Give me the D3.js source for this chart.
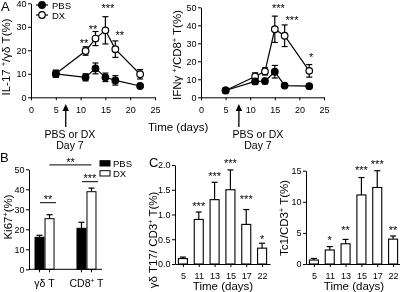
<!DOCTYPE html>
<html>
<head>
<meta charset="utf-8">
<script src="https://cdn.jsdelivr.net/npm/d3@7"></script>
<style>
  body { margin: 0; background: #fff; }
  svg { display: block; font-family: "Liberation Sans", Arial, sans-serif; will-change: transform; }
  .axis path, .axis line { stroke: #000; stroke-width: 1; }
  .axis text { font-size: 9px; fill: #000; font-family: "Liberation Sans", Arial, sans-serif; }
</style>
</head>
<body>
<div id="chart"></div>
<script>
// ---- data ----
const days = [5, 11, 13, 15, 17, 22]
const timeTicks = [0, 5, 10, 15, 20, 25]
const treatDay = 7

// A left: IL-17+ / gd T (%)
const il17Pbs = [10, 8.5, 12.3, 8.5, 7.2, 4.8]
const il17PbsErr = [1.5, 1.5, 2.3, 1.8, 2, 0.5]
const il17Dx = [10, 19.7, 25, 28.5, 20.5, 9.8]
const il17DxErr = [1.5, 1.8, 3, 5.8, 3.5, 2]
const il17Ticks = [0, 10, 20, 30, 40]
const il17Stars = ['**', '**', '***', '**']
const il17StarDay = [10.7, 12.5, 15.5, 17.9]
const il17StarAt = [24, 29.9, 38.9, 27.4]

// A right: IFNg+ / CD8+ T (%)
const ifnPbs = [3.8, 8.8, 9, 14.2, 6.5, 6.2]
const ifnPbsErr = [0.5, 1.5, 1.5, 3.5, 1, 0.5]
const ifnDx = [3.8, 11.6, 14.4, 37.8, 34.2, 14.7]
const ifnDxErr = [0.5, 2, 2, 7.3, 6, 3.5]
const ifnTicks = [0, 10, 20, 30, 40, 50]
const ifnStars = ['***', '***', '*']
const ifnStarDay = [15.75, 18.5, 22.4]
const ifnStarAt = [50.7, 44, 23.5]

// B: Ki67+ (%)
const cellGroups = ['gd', 'cd8']
const treatments = ['PBS', 'DX']
const ki67Pbs = [16, 20.5]
const ki67PbsErr = [1, 3]
const ki67Dx = [25.3, 38.8]
const ki67DxErr = [2, 1.8]
const ki67Ticks = [0, 10, 20, 30, 40, 50]
const ki67Brackets = [
  {a: ['gd', 'PBS'], b: ['gd', 'DX'], at: 33.3, text: '**', edge: true},
  {a: ['cd8', 'PBS'], b: ['cd8', 'DX'], at: 43.8, text: '***', edge: true},
  {a: ['gd', 'DX'], b: ['cd8', 'DX'], at: 52.2, text: '**', edge: false}
]

// C left: gd T17 / CD3+ T (%)
const gdT17 = [0.11, 0.9, 1.3, 1.5, 0.8, 0.32]
const gdT17Err = [0.03, 0.15, 0.35, 0.4, 0.3, 0.1]
const gdT17Ticks = [0, 0.5, 1, 1.5, 2]
const gdT17Stars = ['', '***', '***', '***', '***', '*']
const gdT17StarAt = [0, 1.22, 1.82, 2.08, 1.35, 0.56]

// C right: Tc1 / CD3+ T (%)
const tc1 = [0.64, 2.25, 3.25, 11.1, 12.3, 4]
const tc1Err = [0.25, 0.55, 0.7, 2.8, 2.7, 0.5]
const tc1Ticks = [0, 5, 10, 15]
const tc1Stars = ['', '*', '**', '***', '***', '**']
const tc1StarAt = [0, 4.2, 5.8, 15.4, 16.4, 5.8]

// ---- canvas ----
const svg = d3.select('#chart')
  .append('svg')
  .attr('width', 400)
  .attr('height', 292)

const starSize = 11

// text with "^" parts as superscripts
const richText = (sel, parts, size) => {
  parts.forEach(p => {
    const sup = p.startsWith('^')
    sel.append('tspan')
      .attr('font-size', sup ? size * 0.62 : size)
      .attr('dy', sup ? -size * 0.38 : (sel.selectAll('tspan').size() > 1 ? size * 0.38 : 0))
      .text(sup ? p.slice(1) : p)
  })
  return sel
}

const addText = (x, y, parts, size, anchor = 'middle') => {
  const t = svg.append('text')
    .attr('x', x)
    .attr('y', y)
    .attr('text-anchor', anchor)
    .attr('fill', '#000')
    .attr('font-size', size)
  return richText(t, parts, size)
}

const addYTitle = (x, y, parts) => {
  const t = svg.append('text')
    .attr('transform', `translate(${x},${y}) rotate(-90)`)
    .attr('text-anchor', 'middle')
    .attr('fill', '#000')
    .attr('font-size', 11.5)
  richText(t, parts, 11.5)
}

const addYAxis = (y, x0, ticks, fmt) => {
  svg.append('g')
    .attr('class', 'axis')
    .attr('transform', `translate(${x0},0)`)
    .call(d3.axisLeft(y).tickValues(ticks).tickSize(3).tickSizeOuter(0).tickPadding(1.5)
      .tickFormat(fmt || d3.format('d')))
}

const addStars = (x, y, text) => {
  svg.append('text')
    .attr('x', x)
    .attr('y', y + starSize * 0.57)
    .attr('text-anchor', 'middle')
    .attr('font-size', starSize)
    .attr('fill', '#000')
    .text(text)
}

// ---- A: time courses ----
const drawTimeCourse = (x, y, pbs, pbsErr, dx, dxErr, stars, starDay, starAt) => {
  const series = [
    {vals: dx, err: dxErr, fill: '#fff'},
    {vals: pbs, err: pbsErr, fill: '#000'}
  ].map(s => ({...s, pts: days.map((d, i) => ({day: d, v: s.vals[i], e: s.err[i]}))}))

  const line = d3.line().x(d => x(d.day)).y(d => y(d.v))
  const g = svg.append('g')

  series.forEach(s => {
    g.append('path')
      .datum(s.pts)
      .attr('d', line)
      .attr('fill', 'none')
      .attr('stroke', '#000')
      .attr('stroke-width', 1.2)
  })
  series.forEach(s => {
    const eb = g.append('g').selectAll('g').data(s.pts).enter().append('g')
    eb.append('line')
      .attr('x1', d => x(d.day)).attr('x2', d => x(d.day))
      .attr('y1', d => y(d.v - d.e)).attr('y2', d => y(d.v + d.e))
      .attr('stroke', '#000').attr('stroke-width', 1.2)
    eb.selectAll('line.cap').data(d => [[d.day, d.v - d.e], [d.day, d.v + d.e]])
      .enter().append('line')
      .attr('class', 'cap')
      .attr('x1', d => x(d[0]) - 3).attr('x2', d => x(d[0]) + 3)
      .attr('y1', d => y(d[1])).attr('y2', d => y(d[1]))
      .attr('stroke', '#000').attr('stroke-width', 1.2)
  })
  series.forEach(s => {
    g.append('g').selectAll('circle').data(s.pts).enter().append('circle')
      .attr('cx', d => x(d.day))
      .attr('cy', d => y(d.v))
      .attr('r', 3.3)
      .attr('fill', s.fill)
      .attr('stroke', '#000')
      .attr('stroke-width', 1.2)
  })

  stars.forEach((t, i) => addStars(x(starDay[i]), y(starAt[i]), t))

  svg.append('g')
    .attr('class', 'axis')
    .attr('transform', `translate(0,${y(0)})`)
    .call(d3.axisBottom(x).tickValues(timeTicks).tickSize(3).tickSizeOuter(0).tickPadding(6.5))
}

const addArrow = (x, textX) => {
  svg.append('line')
    .attr('x1', x).attr('x2', x)
    .attr('y1', 109).attr('y2', 127)
    .attr('stroke', '#000').attr('stroke-width', 1.3)
  svg.append('path')
    .attr('d', d3.line()([[x, 104], [x - 3.2, 111], [x + 3.2, 111]]) + 'Z')
    .attr('fill', '#000')
  addText(textX, 138, ['PBS or DX'], 10.5)
  addText(textX, 149, ['Day 7'], 10.5)
}

const xA1 = d3.scaleLinear().domain([0, 25]).range([31, 155])
const yA1 = d3.scaleLinear().domain([0, 40]).range([97.3, 3.3])
const xA2 = d3.scaleLinear().domain([0, 25]).range([201, 324])
const yA2 = d3.scaleLinear().domain([0, 50]).range([97.3, 7.3])

addYAxis(yA1, 31, il17Ticks)
addYAxis(yA2, 201, ifnTicks)
drawTimeCourse(xA1, yA1, il17Pbs, il17PbsErr, il17Dx, il17DxErr, il17Stars, il17StarDay, il17StarAt)
drawTimeCourse(xA2, yA2, ifnPbs, ifnPbsErr, ifnDx, ifnDxErr, ifnStars, ifnStarDay, ifnStarAt)

addYTitle(10, 57, ['IL-17 ', '^+', '/\u03b3\u03b4 T(%)'])
addYTitle(181, 55, ['IFN\u03b3 ', '^+', '/CD8', '^+', ' T(%)'])
addText(148, 131, ['Time (days)'], 11.5, 'start')
addArrow(xA1(treatDay), 70)
addArrow(xA2(treatDay + 0.7), 258)

// legend A
const legA = svg.append('g')
  .selectAll('g').data([{name: 'PBS', fill: '#000'}, {name: 'DX', fill: '#fff'}])
  .enter().append('g')
  .attr('transform', (d, i) => `translate(0,${5 + i * 10})`)
legA.append('line').attr('x1', 36).attr('x2', 48).attr('stroke', '#000').attr('stroke-width', 1.2)
legA.append('circle').attr('cx', 42).attr('r', 3.3).attr('fill', d => d.fill).attr('stroke', '#000').attr('stroke-width', 1.2)
legA.append('text').attr('x', 52).attr('y', 3.5).attr('font-size', 9.5).attr('fill', '#000').text(d => d.name)

// ---- B: Ki67 ----
const xB = d3.scalePoint().domain(cellGroups).range([29, 102]).padding(0.37)
const subB = d3.scalePoint().domain(treatments).range([-5, 5])
const yB = d3.scaleLinear().domain([0, 50]).range([269.3, 169.3])
const barW = 9
const barX = (grp, t) => xB(grp) + subB(t)

const ki67 = cellGroups.flatMap((grp, i) => [
  {grp, t: 'PBS', v: ki67Pbs[i], e: ki67PbsErr[i], fill: '#000'},
  {grp, t: 'DX', v: ki67Dx[i], e: ki67DxErr[i], fill: '#fff'}
])

const drawErrUp = (g, data, cx, y) => {
  g.selectAll('line.err').data(data).enter().append('line')
    .attr('class', 'err')
    .attr('x1', cx).attr('x2', cx)
    .attr('y1', d => y(d.v)).attr('y2', d => y(d.v + d.e))
    .attr('stroke', '#000').attr('stroke-width', 1.2)
  g.selectAll('line.cap').data(data).enter().append('line')
    .attr('class', 'cap')
    .attr('x1', d => cx(d) - 3).attr('x2', d => cx(d) + 3)
    .attr('y1', d => y(d.v + d.e)).attr('y2', d => y(d.v + d.e))
    .attr('stroke', '#000').attr('stroke-width', 1.2)
}

const gB = svg.append('g')
drawErrUp(gB, ki67, d => barX(d.grp, d.t), yB)
gB.selectAll('rect').data(ki67).enter().append('rect')
  .attr('x', d => barX(d.grp, d.t) - barW / 2)
  .attr('y', d => yB(d.v))
  .attr('width', barW)
  .attr('height', d => yB(0) - yB(d.v))
  .attr('fill', d => d.fill)
  .attr('stroke', '#000')
  .attr('stroke-width', 1)

addYAxis(yB, 29, ki67Ticks)
const axB = svg.append('g').attr('class', 'axis')
axB.append('path').attr('d', `M${xB.range()[0]},${yB(0)}H${xB.range()[1]}`)
axB.selectAll('line').data(ki67).enter().append('line')
  .attr('x1', d => barX(d.grp, d.t)).attr('x2', d => barX(d.grp, d.t))
  .attr('y1', yB(0)).attr('y2', yB(0) + 3)

addText(xB('gd'), 287, ['\u03b3\u03b4 T'], 10.5)
addText(xB('cd8'), 287, ['CD8', '^+', ' T'], 10.5)
addYTitle(12, 217, ['Ki67', '^+', '(%)'])

ki67Brackets.forEach(b => {
  const x1 = b.edge ? barX(...b.a) + 0.5 : barX(...b.a)
  const x2 = b.edge ? barX(...b.b) + barW / 2 + 2 : barX(...b.b)
  svg.append('line')
    .attr('x1', x1).attr('x2', x2)
    .attr('y1', yB(b.at)).attr('y2', yB(b.at))
    .attr('stroke', '#000').attr('stroke-width', 1)
  addStars((x1 + x2) / 2, yB(b.at) - 5.5, b.text)
})

const legB = svg.append('g')
  .selectAll('g').data([{name: 'PBS', fill: '#000'}, {name: 'DX', fill: '#fff'}])
  .enter().append('g')
  .attr('transform', (d, i) => `translate(100,${160.7 + i * 10})`)
legB.append('rect').attr('width', 10).attr('height', 5.3).attr('fill', d => d.fill).attr('stroke', '#000').attr('stroke-width', 1)
legB.append('text').attr('x', 13).attr('y', 6.2).attr('font-size', 9.5).attr('fill', '#000').text(d => d.name)

// ---- C: bar time courses ----
const drawBars = (x, y, vals, err, ticks, fmt, stars, starAt) => {
  const data = days.map((d, i) => ({day: d, v: vals[i], e: err[i], s: stars[i], at: starAt[i]}))
  const w = x.step() * 0.57
  const g = svg.append('g')
  drawErrUp(g, data, d => x(d.day), y)
  g.selectAll('rect').data(data).enter().append('rect')
    .attr('x', d => x(d.day) - w / 2)
    .attr('y', d => y(d.v))
    .attr('width', w)
    .attr('height', d => y(0) - y(d.v))
    .attr('fill', '#fff')
    .attr('stroke', '#000')
    .attr('stroke-width', 1.1)
  data.filter(d => d.s).forEach(d => addStars(x(d.day), y(d.at), d.s))

  addYAxis(y, x.range()[0], ticks, fmt)
  svg.append('g')
    .attr('class', 'axis')
    .attr('transform', `translate(0,${y(0)})`)
    .call(d3.axisBottom(x).tickSize(3).tickSizeOuter(0).tickPadding(6))
  addText((x.range()[0] + x.range()[1]) / 2 + 0.5, 290, ['Time (days)'], 11.5)
}

const xC1 = d3.scalePoint().domain(days).range([175, 270]).padding(0.5)
const yC1 = d3.scaleLinear().domain([0, 2]).range([264, 165])
const xC2 = d3.scalePoint().domain(days).range([306, 401]).padding(0.5)
const yC2 = d3.scaleLinear().domain([0, 15]).range([264, 170.7])

drawBars(xC1, yC1, gdT17, gdT17Err, gdT17Ticks, d3.format('.1f'), gdT17Stars, gdT17StarAt)
drawBars(xC2, yC2, tc1, tc1Err, tc1Ticks, d3.format('d'), tc1Stars, tc1StarAt)
addYTitle(157, 240, ['\u03b3\u03b4 T17/ CD3', '^+', ' T(%)'])
addYTitle(288, 218, ['Tc1/CD3', '^+', ' T(%)'])

// panel letters
addText(1, 11, ['A'], 13, 'start')
addText(0, 162, ['B'], 13, 'start')
addText(149, 167, ['C'], 13, 'start')
</script>
</body>
</html>
